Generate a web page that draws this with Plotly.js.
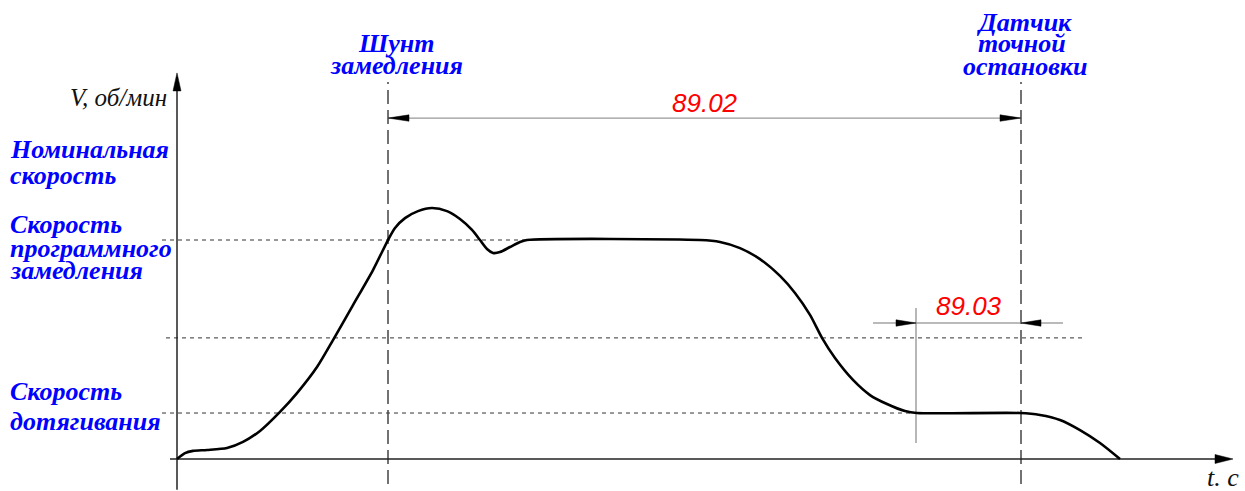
<!DOCTYPE html>
<html><head><meta charset="utf-8">
<script src="https://cdn.plot.ly/plotly-3.0.1.min.js"></script>
<style>html,body{margin:0;padding:0;background:#fff}#chart{width:1245px;height:491px}</style>
</head><body><div id="chart"></div>
<script>
// ---- data (t in arbitrary time units, V in % of programmed deceleration speed) ----
const curveT = [0, 0.8, 1.6, 3.0, 5.0, 6.6, 8.3, 10.3, 12.0, 14.0, 15.6, 17.6, 19.6, 21.1, 21.8, 22.8, 24.1, 25.5, 27.0, 28.3, 29.5, 30.3, 31.0, 31.6, 32.3, 33.3, 34.3, 35.0, 52.3, 54.3, 56.3, 58.3, 60.3, 61.8, 63.3, 64.5, 65.8, 67.6, 69.3, 71.0, 72.8, 74.0, 84.3, 86.3, 88.3, 90.3, 92.3, 94.3];
const curveV = [0, 2.7, 3.7, 4.1, 5.0, 7.8, 12.8, 21.5, 30.1, 42.0, 54.3, 70.3, 86.3, 100, 105.5, 110, 113.2, 114.6, 113.2, 109.6, 104.6, 100, 95.9, 94.1, 94.5, 96.8, 99.1, 100, 100, 99.1, 96.3, 91.3, 83.6, 75.8, 65.8, 55.3, 46.1, 36.1, 29.2, 25.1, 21.9, 21.0, 21.0, 20.1, 17.8, 13.2, 7.3, 0];
const levelNames = ["programSpeed", "midLevel", "creepSpeed"];
const levelValues = [100, 55.3, 21];
const levelStartT = [-1.5, -1.1, -1.5];
const levelEndT = [35.0, 90.6, 74.0];
const eventNames = ["shunt", "sensor"];
const eventT = [21.1, 84.4];
const eventVRange = [-11.4, 172.1];
const dimLabels = ["89.02", "89.03"];
const dimV = [155.7, 62.1];
const dim2Extent = [69.6, 88.6];
const dim2StartT = 73.9;
const dim2TickV = [7.3, 69.0];
const axisTEnd = 105.6, axisVEnd = 176.3, axisTStart = -0.7, axisVStart = -14;
const axisLabels = ["V, об/мин", "t. c"];

// ---- scale helpers (layout: 10 px per t unit, 2.19 px per V unit) ----
const W = 1245, H = 491;
const xr = [-17.7, 106.8], yr = [-14.61, 209.6];
const pxT = (xr[1]-xr[0]) / W, pxV = (yr[1]-yr[0]) / H;
const PX = x => x / W, PY = y => 1 - y / H;

function tri(tipT, tipV, dir, lenPx, halfPx, color) {
  let p;
  const L = lenPx, h = halfPx;
  if (dir === 'r') p = `M${tipT},${tipV} L${tipT - L*pxT},${tipV + h*pxV} L${tipT - L*pxT},${tipV - h*pxV} Z`;
  if (dir === 'l') p = `M${tipT},${tipV} L${tipT + L*pxT},${tipV + h*pxV} L${tipT + L*pxT},${tipV - h*pxV} Z`;
  if (dir === 'u') p = `M${tipT},${tipV} L${tipT - h*pxT},${tipV - L*pxV} L${tipT + h*pxT},${tipV - L*pxV} Z`;
  return {type:'path', xref:'x', yref:'y', path:p, fillcolor:color, line:{color:color, width:0.5}, layer:'above'};
}
function seg(x0,y0,x1,y1,line){return {type:'line', xref:'x', yref:'y', x0,y0,x1,y1, line, layer:'below'};}

const shapes = [];
levelValues.forEach((v,i)=>shapes.push(seg(levelStartT[i], v, levelEndT[i], v, {color:'#333', width:1, dash:'4px,4px'})));
eventT.forEach(t=>shapes.push(seg(t, eventVRange[0], t, eventVRange[1], {color:'#444', width:1.5, dash:'14px,6px'})));
shapes.push(seg(axisTStart, 0, axisTEnd - 1.5, 0, {color:'#222', width:1.5}));
shapes.push(seg(0, axisVStart, 0, axisVEnd - 5, {color:'#222', width:1.5}));
shapes.push(tri(axisTEnd, 0, 'r', 18, 4.5, '#000'));
shapes.push(tri(0, axisVEnd, 'u', 18, 4, '#000'));
shapes.push(seg(eventT[0], dimV[0], eventT[1], dimV[0], {color:'#999', width:1.3}));
shapes.push(tri(eventT[0], dimV[0], 'l', 21, 3.2, '#000'));
shapes.push(tri(eventT[1], dimV[0], 'r', 21, 3.2, '#000'));
shapes.push(seg(dim2Extent[0], dimV[1], dim2Extent[1], dimV[1], {color:'#777', width:1.2}));
shapes.push(seg(dim2StartT, dim2TickV[0], dim2StartT, dim2TickV[1], {color:'#888', width:1.2}));
shapes.push(tri(dim2StartT, dimV[1], 'r', 20, 3.2, '#000'));
shapes.push(tri(eventT[1], dimV[1], 'l', 20, 3.2, '#000'));

const blue = '#0000ff';
const serif = 'Liberation Serif, Times New Roman, serif';
function lab(text, x, y, xanchor, size, color, bold, yanchor) {
  return {xref:'paper', yref:'paper', x:PX(x), y:PY(y), xanchor, yanchor:yanchor||'middle', showarrow:false, borderpad:0,
    text: bold ? `<b><i>${text}</i></b>` : `<i>${text}</i>`, font:{family:serif, size, color}};
}
const FS = 26;
const annotations = [
  lab('Номинальная', 9, 150, 'left', FS, blue, true),
  lab('скорость', 9, 176, 'left', FS, blue, true),
  lab('Скорость', 9, 224, 'left', FS, blue, true),
  lab('программного', 9, 248, 'left', FS, blue, true),
  lab('замедления', 9, 270, 'left', FS, blue, true),
  lab('Скорость', 9, 391, 'left', FS, blue, true),
  lab('дотягивания', 9, 421, 'left', FS, blue, true),
  lab('Шунт', 396, 44, 'center', FS, blue, true),
  lab('замедления', 396, 65, 'center', FS, blue, true),
  lab('Датчик', 1024, 22, 'center', FS, blue, true),
  lab('точной', 1022, 44, 'center', FS, blue, true),
  lab('остановки', 1025, 66, 'center', FS, blue, true),
  lab(axisLabels[0], 168, 97, 'right', 25, '#111', false),
  lab(axisLabels[1], 1206, 493, 'left', 26, '#111', false, 'bottom'),
  {xref:'x', yref:'paper', x:(eventT[0]+eventT[1])/2, y:PY(103), xanchor:'center', yanchor:'middle', showarrow:false,
   text:`<i>${dimLabels[0]}</i>`, font:{family:'Liberation Sans, Arial, sans-serif', size:26, color:'#ff0000'}},
  {xref:'x', yref:'paper', x:(dim2StartT+eventT[1])/2, y:PY(306), xanchor:'center', yanchor:'middle', showarrow:false,
   text:`<i>${dimLabels[1]}</i>`, font:{family:'Liberation Sans, Arial, sans-serif', size:26, color:'#ff0000'}}
];

const trace = {x:curveT, y:curveV, type:'scatter', mode:'lines', line:{color:'#000', width:2.6, shape:'spline', smoothing:0.7}, hoverinfo:'skip'};

Plotly.newPlot('chart', [trace], {
  width:W, height:H, margin:{l:0,r:0,t:0,b:0}, paper_bgcolor:'#fff', plot_bgcolor:'#fff', showlegend:false,
  xaxis:{range:xr, visible:false, fixedrange:true},
  yaxis:{range:yr, visible:false, fixedrange:true},
  shapes, annotations
}, {staticPlot:true});
</script></body></html>
